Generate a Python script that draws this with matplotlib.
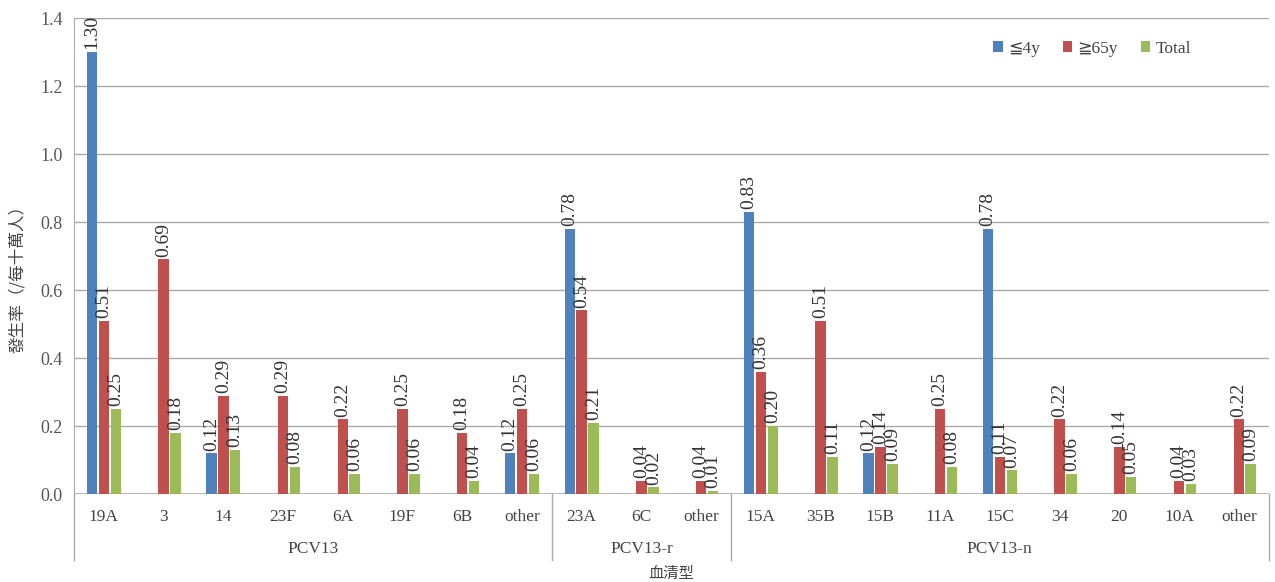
import numpy as np
import matplotlib
matplotlib.use("Agg")
import matplotlib.pyplot as plt
import matplotlib.transforms as mtransforms

categories = ["19A", "3", "14", "23F", "6A", "19F", "6B", "other",
              "23A", "6C", "other",
              "15A", "35B", "15B", "11A", "15C", "34", "20", "10A", "other"]
groups = ["PCV13", "PCV13-r", "PCV13-n"]
group_sizes = [8, 3, 9]
nan = np.nan
under4 = [1.30, nan, 0.12, nan, nan, nan, nan, 0.12,
          0.78, nan, nan,
          0.83, nan, 0.12, nan, 0.78, nan, nan, nan, nan]
over65 = [0.51, 0.69, 0.29, 0.29, 0.22, 0.25, 0.18, 0.25,
          0.54, 0.04, 0.04,
          0.36, 0.51, 0.14, 0.25, 0.11, 0.22, 0.14, 0.04, 0.22]
total = [0.25, 0.18, 0.13, 0.08, 0.06, 0.06, 0.04, 0.06,
         0.21, 0.02, 0.01,
         0.20, 0.11, 0.09, 0.08, 0.07, 0.06, 0.05, 0.03, 0.09]
series_names = ["≦4y", "≧65y", "Total"]
colors = ["#4F81BD", "#C0504D", "#9BBB59"]

serif = ["Liberation Serif", "DejaVu Serif"]
cjk = ["Noto Sans CJK TC", "DejaVu Sans"]

fig = plt.figure(figsize=(12.75, 5.82), dpi=100)
ax = fig.add_axes([0.058, 0.151, 0.937, 0.818])

n = len(categories)
x = np.arange(n)
w = 0.175
step = 0.2
for i, (vals, c, name) in enumerate(zip([under4, over65, total], colors, series_names)):
    xs = x + (i - 1) * step
    v = np.array(vals, dtype=float)
    ax.bar(xs, np.nan_to_num(v), width=w, color=c, label=name, zorder=3)
    for xi, vi in zip(xs, v):
        if not np.isnan(vi):
            ax.text(xi, vi + 0.008, f"{vi:.2f}", rotation=90, ha="center", va="bottom",
                    fontsize=14, family=serif, color="#333333", zorder=4)

ax.set_xlim(-0.5, n - 0.5)
ax.set_ylim(0, 1.4)
ax.set_yticks(np.arange(0, 1.41, 0.2))
ax.set_yticklabels([f"{t:.1f}" for t in np.arange(0, 1.41, 0.2)], family=serif, fontsize=13, color="#555555")
ax.set_xticks(x)
ax.set_xticklabels(categories, family=serif, fontsize=12.5, color="#444444")
ax.tick_params(axis="x", length=0, pad=11)
ax.tick_params(axis="y", length=0, pad=8)
ax.grid(axis="y", color="#AAAAAA", linewidth=1, zorder=0)
for s in ["top", "right", "bottom"]:
    ax.spines[s].set_visible(False)
ax.spines["left"].set_color("#AAAAAA")
ax.axhline(0, color="#AAAAAA", linewidth=1.2, zorder=2)

# group labels and dividers
trans = mtransforms.blended_transform_factory(ax.transData, ax.transAxes)
start = 0
bounds = [-0.5]
for g, sz in zip(groups, group_sizes):
    center = start + (sz - 1) / 2
    ax.text(center, -0.115, g, transform=trans, ha="center", va="center",
            family=serif, fontsize=12.5, color="#444444")
    start += sz
    bounds.append(start - 0.5)
for b in bounds:
    ax.plot([b, b], [0, -0.138], transform=trans, color="#AAAAAA", linewidth=1, clip_on=False)

ax.text(0.5, -0.166, "血清型", transform=ax.transAxes, ha="center", va="center",
        family=cjk, fontsize=11, color="#444444")
ax.text(18 / 1275, 1 - 275 / 582, "發生率（/每十萬人）", transform=fig.transFigure,
        rotation=90, ha="center", va="center", family=cjk, fontsize=12, color="#444444")

leg = ax.legend(loc="upper right", bbox_to_anchor=(0.948, 0.985), ncol=3, frameon=False,
                prop={"family": ["Liberation Serif", "DejaVu Sans"], "size": 12.5},
                handlelength=0.55, handleheight=0.55, handletextpad=0.3, columnspacing=1.3)
for t in leg.get_texts():
    t.set_color("#444444")

fig.savefig("out.png", dpi=100)
